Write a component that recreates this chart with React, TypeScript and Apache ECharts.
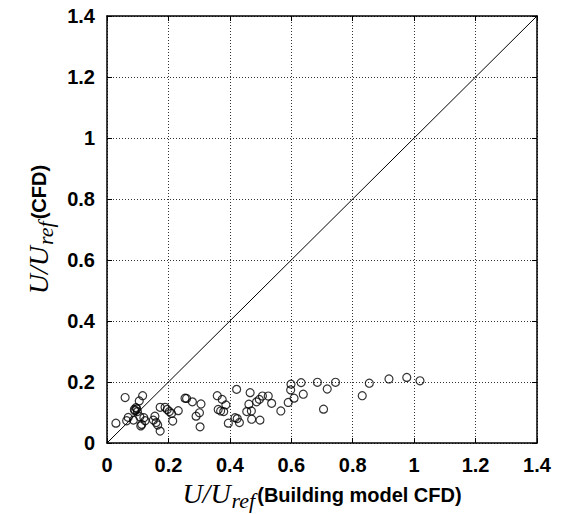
import React, { useEffect, useRef } from "react";
import * as echarts from "echarts";

// Building model CFD (x) vs CFD (y), U/Uref
const modelCFD: number[] = [
  0.029, 0.059, 0.064, 0.069, 0.086, 0.089, 0.094, 0.091, 0.099, 0.105,
  0.116, 0.107, 0.113, 0.110, 0.124, 0.151, 0.156, 0.160, 0.165, 0.173,
  0.173, 0.189, 0.196, 0.203, 0.214, 0.210, 0.232, 0.254, 0.259, 0.278,
  0.306, 0.301, 0.290, 0.303, 0.359, 0.375, 0.387, 0.362, 0.370, 0.380,
  0.422, 0.395, 0.417, 0.424, 0.431, 0.455, 0.462, 0.466, 0.470, 0.471,
  0.487, 0.496, 0.506, 0.525, 0.536, 0.498, 0.566, 0.590, 0.599, 0.598,
  0.609, 0.632, 0.639, 0.685, 0.705, 0.717, 0.744, 0.831, 0.854, 0.918,
  0.976, 1.019, 0.097, 0.120,
];
const cfd: number[] = [
  0.065, 0.149, 0.073, 0.084, 0.075, 0.110, 0.116, 0.106, 0.103, 0.138,
  0.155, 0.086, 0.061, 0.056, 0.073, 0.075, 0.088, 0.067, 0.059, 0.039,
  0.117, 0.117, 0.110, 0.103, 0.072, 0.097, 0.106, 0.147, 0.146, 0.135,
  0.128, 0.099, 0.088, 0.053, 0.155, 0.143, 0.125, 0.110, 0.105, 0.103,
  0.176, 0.065, 0.083, 0.080, 0.067, 0.103, 0.127, 0.165, 0.105, 0.078,
  0.135, 0.143, 0.154, 0.154, 0.130, 0.075, 0.105, 0.133, 0.193, 0.174,
  0.147, 0.198, 0.160, 0.199, 0.111, 0.177, 0.199, 0.155, 0.196, 0.210,
  0.215, 0.204, 0.112, 0.083,
];
// y = x reference line
const diagonal: number[][] = [
  [0, 0],
  [1.4, 1.4],
];
const axisMin = 0;
const axisMax = 1.4;
const axisStep = 0.2;

const serif = "'Liberation Serif', 'Times New Roman', serif";
const sans = "'Liberation Sans', Arial, sans-serif";

const nameRich = {
  u: {
    fontFamily: serif,
    fontStyle: "italic",
    fontSize: 28,
    lineHeight: 28,
    verticalAlign: "top",
    color: "#000",
  },
  sub: {
    fontFamily: serif,
    fontStyle: "italic",
    fontSize: 22,
    lineHeight: 18,
    padding: [10, 2, 0, 1],
    verticalAlign: "top",
    color: "#000",
  },
  t: {
    fontFamily: sans,
    fontWeight: "bold",
    fontSize: 20,
    lineHeight: 24,
    padding: [5, 0, 0, 0],
    verticalAlign: "top",
    color: "#000",
  },
};

export default function App() {
  const ref = useRef<HTMLDivElement>(null);
  useEffect(() => {
    if (!ref.current) return;
    const chart = echarts.init(ref.current, null, { renderer: "svg" });
    const points = modelCFD.map((x, i) => [x, cfd[i]]);
    const tickLabel = {
      fontFamily: sans,
      fontWeight: "bold",
      fontSize: 20,
      color: "#000",
      margin: 12,
    };
    const mainAxisCommon = {
      type: "value",
      min: axisMin,
      max: axisMax,
      interval: axisStep,
      axisLine: { show: true, onZero: false, lineStyle: { color: "#000", width: 1.5 } },
      axisTick: { show: true, inside: true, length: 5, lineStyle: { color: "#000", width: 1 } },
      splitLine: { show: true, lineStyle: { color: "#333", width: 1, type: [1, 2] } },
    };
    const sideAxisCommon = {
      type: "value",
      min: axisMin,
      max: axisMax,
      interval: axisStep,
      axisLine: { show: true, onZero: false, lineStyle: { color: "#000", width: 1.5 } },
      axisTick: { show: true, inside: true, length: 5, lineStyle: { color: "#000", width: 1 } },
      axisLabel: { show: false },
      splitLine: { show: false },
    };
    chart.setOption({
      animation: false,
      backgroundColor: "#fff",
      grid: {
        left: 107,
        right: 33,
        top: 16,
        bottom: 71,
        containLabel: false,
        outerBoundsMode: "none",
      },
      xAxis: [
        {
          ...mainAxisCommon,
          position: "bottom",
          axisLabel: tickLabel,
          name: "{u|U/U}{sub|ref}{t|(Building model CFD)}",
          nameLocation: "middle",
          nameGap: 34,
          nameTextStyle: { rich: nameRich },
        },
        { ...sideAxisCommon, position: "top" },
      ],
      yAxis: [
        {
          ...mainAxisCommon,
          position: "left",
          axisLabel: tickLabel,
          name: "{u|U/U}{sub|ref}{t|(CFD)}",
          nameLocation: "middle",
          nameGap: 48,
          nameTextStyle: { rich: nameRich },
        },
        { ...sideAxisCommon, position: "right" },
      ],
      series: [
        {
          type: "line",
          data: diagonal,
          xAxisIndex: 0,
          yAxisIndex: 0,
          showSymbol: false,
          symbol: "none",
          lineStyle: { color: "#000", width: 1 },
          silent: true,
          z: 3,
        },
        {
          type: "scatter",
          data: points,
          xAxisIndex: 0,
          yAxisIndex: 0,
          symbol: "circle",
          symbolSize: 8,
          itemStyle: { color: "rgba(0,0,0,0)", borderColor: "#000", borderWidth: 1.2 },
          z: 4,
        },
      ],
    });
    return () => chart.dispose();
  }, []);
  return (
    <div
      ref={ref}
      style={{ position: "absolute", left: 0, top: 0, width: 570, height: 514 }}
    />
  );
}
